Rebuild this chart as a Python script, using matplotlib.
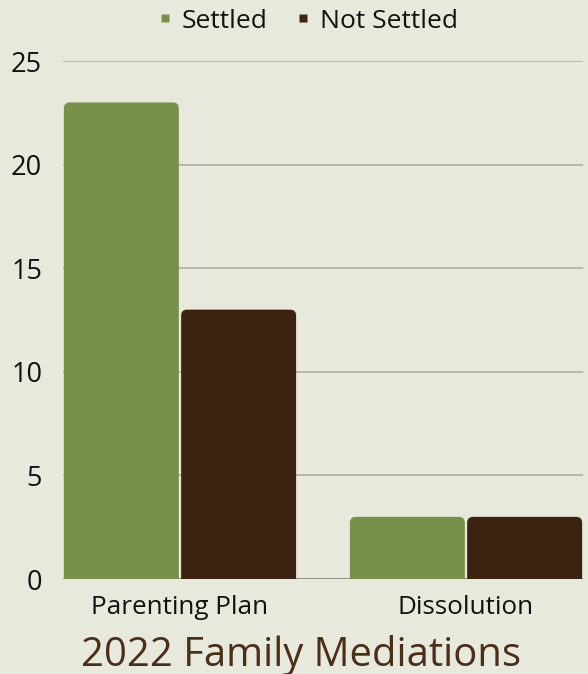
import matplotlib
matplotlib.use("Agg")
import matplotlib.pyplot as plt
from matplotlib.patches import FancyBboxPatch
from matplotlib.lines import Line2D

categories = ["Parenting Plan", "Dissolution"]
settled = [23, 3]
not_settled = [13, 3]
series_names = ["Settled", "Not Settled"]
yticks = [0, 5, 10, 15, 20, 25]

BG = "#e8e9dd"
GREEN = "#77914a"
BROWN = "#3c230f"
FONT = ["Open Sans", "DejaVu Sans"]

W, H = 588, 674
fig = plt.figure(figsize=(W / 100, H / 100), dpi=100)
fig.patch.set_facecolor(BG)
ax = fig.add_axes([63 / W, 95 / H, (583 - 63) / W, (579 - 61) / H])
ax.set_facecolor(BG)

bw = 0.402
off = 0.205
x = list(range(len(categories)))
ax.set_xlim(-0.409, 1.409)
ax.set_ylim(0, 25)

ax.set_yticks(yticks)
ax.yaxis.grid(True, color="#afb0a3", linewidth=1.2)
ax.set_axisbelow(True)
for s in ax.spines.values():
    s.set_visible(False)
ax.axhline(0, color="#8a8a80", linewidth=1.2, zorder=1)
ax.tick_params(axis="both", length=0)
ax.tick_params(axis="y", pad=15)
ax.tick_params(axis="x", pad=11.5)
ax.set_xticks(x)
ax.set_xticklabels(categories)
for lab in ax.get_yticklabels():
    lab.set_fontfamily(FONT)
    lab.set_fontsize(19.5)
    lab.set_color("#111111")
for lab in ax.get_xticklabels():
    lab.set_fontfamily(FONT)
    lab.set_fontsize(18.8)
    lab.set_color("#111111")

fig.canvas.draw()
p0 = ax.transData.transform((0, 0))
p1 = ax.transData.transform((1, 1))
xpx = p1[0] - p0[0]
ypx = p1[1] - p0[1]
aspect = xpx / ypx
r = 6 / xpx

for vals, color, sign in [(settled, GREEN, -1), (not_settled, BROWN, 1)]:
    bars = ax.bar([xi + sign * off for xi in x], vals, width=bw, color=color)
    for b in bars:
        b.set_visible(False)
        patch = FancyBboxPatch((b.get_x(), -1), b.get_width(), b.get_height() + 1,
                               boxstyle=f"round,pad=0,rounding_size={r}",
                               mutation_aspect=aspect,
                               facecolor=color, edgecolor="none", zorder=2)
        ax.add_patch(patch)
        patch.set_clip_path(ax.patch)

handles = [Line2D([], [], marker="s", linestyle="none", markersize=6,
                  markerfacecolor=GREEN, markeredgecolor="none"),
           Line2D([], [], marker="s", linestyle="none", markersize=6,
                  markerfacecolor=BROWN, markeredgecolor="none")]
leg = fig.legend(handles, series_names, loc="center", bbox_to_anchor=(0.522, 1 - 21 / H),
                 ncol=2, frameon=False, prop={"family": FONT, "size": 19},
                 handletextpad=0.3, columnspacing=1.0, handlelength=0.7)
for t in leg.get_texts():
    t.set_color("#111111")

fig.text(0.512, 1 - 655 / H, "2022 Family Mediations", ha="center", va="center",
         fontsize=28.8, color="#4a2e18", family=FONT)

fig.savefig("out.png", dpi=100, facecolor=BG)
